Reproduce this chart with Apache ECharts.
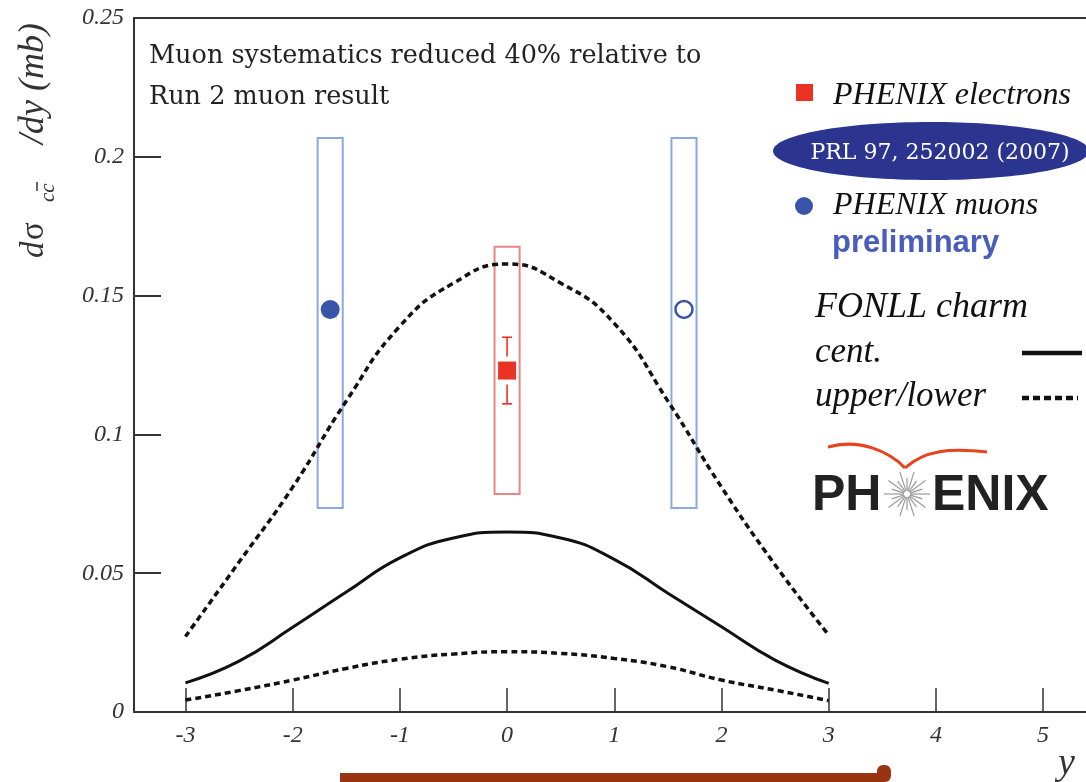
<!DOCTYPE html>
<html>
<head>
<meta charset="utf-8">
<title>Charm cross section vs rapidity</title>
<script src="https://cdn.jsdelivr.net/npm/echarts@6/dist/echarts.min.js"></script>
<style>
  html, body { margin: 0; padding: 0; background: #fff; }
  #chart { width: 1086px; height: 782px; }
</style>
</head>
<body>
<div id="chart"></div>
<script>
// FONLL charm curves, dsigma/dy (mb) vs rapidity y
const rapidity   = [-3, -2.5, -2, -1.5, -1, -0.5, 0, 0.5, 1, 1.5, 2, 2.5, 3];
const fonllCent  = [0.0105, 0.0183, 0.0305, 0.0432, 0.0555, 0.0627, 0.0648, 0.0627, 0.0550, 0.0428, 0.0307, 0.0187, 0.0103];
const fonllUpper = [0.0272, 0.0540, 0.0810, 0.1120, 0.1390, 0.1545, 0.1614, 0.1545, 0.1400, 0.1120, 0.0810, 0.0530, 0.0277];
const fonllLower = [0.0043, 0.0077, 0.0115, 0.0157, 0.0190, 0.0209, 0.0217, 0.0211, 0.0193, 0.0163, 0.0115, 0.0079, 0.0041];

// PHENIX muons (preliminary), forward / backward
const muonY      = [-1.65, 1.65];
const muonVal    = [0.145, 0.145];
const muonSysLo  = [0.0735, 0.0735];
const muonSysHi  = [0.2068, 0.2068];

// PHENIX electrons, mid rapidity
const elecY      = [0];
const elecVal    = [0.123];
const elecStatLo = [0.111];
const elecStatHi = [0.135];
const elecSysLo  = [0.0785];
const elecSysHi  = [0.1676];

// axis ticks
const xTicks = [-3, -2, -1, 0, 1, 2, 3, 4, 5];

const AXIS = '#333333';
const BLUE = '#3a55a8';
const BLUE_BOX = '#8aa9de';
const RED = '#ea3323';
const RED_BOX = '#e98585';
const boxHalf = 0.117;
const labelFont = { fontFamily: 'Liberation Serif', fontStyle: 'italic', fontSize: 24, color: AXIS };

const chart = echarts.init(document.getElementById('chart'));

function boxSeries(name, xs, lo, hi, color) {
  return {
    name: name,
    type: 'custom',
    silent: true,
    renderItem: function (params, api) {
      const x = api.value(0);
      const a = api.coord([x - boxHalf, api.value(2)]);
      const b = api.coord([x + boxHalf, api.value(1)]);
      return {
        type: 'rect',
        shape: { x: a[0], y: a[1], width: b[0] - a[0], height: b[1] - a[1] },
        style: { fill: 'none', stroke: color, lineWidth: 2 }
      };
    },
    data: xs.map((x, i) => [x, lo[i], hi[i]]),
    z: 2
  };
}

function pairs(xs, ys) { return xs.map((x, i) => [x, ys[i]]); }

function curve(name, ys, dashed) {
  return {
    name: name,
    type: 'line',
    data: pairs(rapidity, ys),
    smooth: 0.5,
    showSymbol: false,
    lineStyle: dashed
      ? { color: '#111', width: 3.5, type: [6, 4] }
      : { color: '#111', width: 3 },
    z: 3
  };
}

const legendItalic = 'italic 32px "Liberation Serif"';

chart.setOption({
  animation: false,
  backgroundColor: '#fff',
  grid: { left: 134, right: 0, top: 18, bottom: 70 },
  xAxis: [
    {
      type: 'value',
      min: -3.48,
      max: 5.40,
      axisLine: { show: true, onZero: false, lineStyle: { color: AXIS, width: 2 } },
      axisTick: { show: true, inside: true, length: 24, customValues: xTicks, lineStyle: { color: AXIS, width: 1.5 } },
      axisLabel: Object.assign({ margin: 12, customValues: xTicks }, labelFont),
      splitLine: { show: false }
    },
    {
      type: 'value',
      position: 'top',
      min: -3.48,
      max: 5.40,
      axisLine: { show: true, onZero: false, lineStyle: { color: AXIS, width: 2 } },
      axisTick: { show: false },
      axisLabel: { show: false },
      splitLine: { show: false }
    }
  ],
  yAxis: {
    type: 'value',
    min: 0,
    max: 0.25,
    interval: 0.05,
    axisLine: { show: true, onZero: false, lineStyle: { color: AXIS, width: 2 } },
    axisTick: { show: true, inside: true, length: 27, lineStyle: { color: AXIS, width: 2 } },
    axisLabel: Object.assign({ margin: 10, formatter: v => String(+v.toFixed(2)) }, labelFont),
    splitLine: { show: false }
  },
  series: [
    boxSeries('muon sys', muonY, muonSysLo, muonSysHi, BLUE_BOX),
    boxSeries('electron sys', elecY, elecSysLo, elecSysHi, RED_BOX),
    curve('upper', fonllUpper, true),
    curve('cent', fonllCent, false),
    curve('lower', fonllLower, true),
    {
      name: 'electron stat',
      type: 'custom',
      silent: true,
      renderItem: function (params, api) {
        const c = api.coord([api.value(0), api.value(1)]);
        const top = api.coord([api.value(0), api.value(3)]);
        const bot = api.coord([api.value(0), api.value(2)]);
        const st = { stroke: RED, lineWidth: 1.6 };
        return {
          type: 'group',
          children: [
            { type: 'line', shape: { x1: c[0], y1: top[1], x2: c[0], y2: c[1] - 14 }, style: st },
            { type: 'line', shape: { x1: c[0], y1: c[1] + 14, x2: c[0], y2: bot[1] }, style: st },
            { type: 'line', shape: { x1: c[0] - 5, y1: top[1], x2: c[0] + 5, y2: top[1] }, style: st },
            { type: 'line', shape: { x1: c[0] - 5, y1: bot[1], x2: c[0] + 5, y2: bot[1] }, style: st }
          ]
        };
      },
      data: elecY.map((x, i) => [x, elecVal[i], elecStatLo[i], elecStatHi[i]]),
      z: 4
    },
    {
      name: 'PHENIX electrons',
      type: 'scatter',
      symbol: 'rect',
      symbolSize: 18,
      itemStyle: { color: RED, opacity: 1 },
      data: pairs(elecY, elecVal),
      z: 5
    },
    {
      name: 'PHENIX muons',
      type: 'scatter',
      symbol: 'circle',
      data: muonY.map((x, i) => ({
        value: [x, muonVal[i]],
        symbolSize: i === 0 ? 19 : 17,
        itemStyle: i === 0
          ? { color: BLUE, opacity: 1 }
          : { color: '#fff', borderColor: BLUE, borderWidth: 2.5, opacity: 1 }
      })),
      z: 5
    }
  ],
  graphic: [
    // note text
    { type: 'text', x: 149, y: 56, style: { text: 'Muon systematics reduced 40% relative to', font: '25.5px "DejaVu Serif"', fill: '#222', textVerticalAlign: 'middle' } },
    { type: 'text', x: 149, y: 97, style: { text: 'Run 2 muon result', font: '25.5px "DejaVu Serif"', fill: '#222', textVerticalAlign: 'middle' } },
    // y-axis title
    {
      type: 'group', x: 34, y: 258, rotation: Math.PI / 2,
      children: [
        { type: 'text', x: 0, y: 0, style: { text: 'd', font: 'italic 33px "Liberation Serif"', fill: AXIS, textVerticalAlign: 'middle' } },
        { type: 'text', x: 18, y: 0, style: { text: 'σ', font: '33px "Liberation Serif"', fill: AXIS, textVerticalAlign: 'middle' } },
        { type: 'text', x: 56, y: 14, style: { text: 'cc', font: 'italic 21px "Liberation Serif"', fill: AXIS, textVerticalAlign: 'middle' } },
        { type: 'line', shape: { x1: 67, y1: 3, x2: 76, y2: 3 }, style: { stroke: AXIS, lineWidth: 1.5 } },
        { type: 'text', x: 114, y: 0, style: { text: '/dy (mb)', font: 'italic 36px "Liberation Serif"', fill: AXIS, textVerticalAlign: 'middle' } }
      ]
    },
    // x-axis title
    { type: 'text', x: 1058, y: 764, style: { text: 'y', font: 'italic 38px "Liberation Serif"', fill: AXIS, textVerticalAlign: 'middle' } },
    // legend: electrons
    { type: 'rect', shape: { x: 796, y: 84, width: 17, height: 17 }, style: { fill: RED } },
    { type: 'text', x: 833, y: 96, style: { text: 'PHENIX electrons', font: legendItalic, fill: '#111', textVerticalAlign: 'middle' } },
    { type: 'ellipse', shape: { cx: 931, cy: 151, rx: 158, ry: 29 }, style: { fill: '#2b3590' } },
    { type: 'text', x: 940, y: 153, style: { text: 'PRL 97, 252002 (2007)', font: '22px "DejaVu Serif"', fill: '#fff', textAlign: 'center', textVerticalAlign: 'middle' } },
    // legend: muons
    { type: 'circle', shape: { cx: 804, cy: 206, r: 9 }, style: { fill: BLUE } },
    { type: 'text', x: 833, y: 206, style: { text: 'PHENIX muons', font: legendItalic, fill: '#111', textVerticalAlign: 'middle' } },
    { type: 'text', x: 832, y: 243, style: { text: 'preliminary', font: 'bold 31px "Liberation Sans"', fill: '#4a5dbb', textVerticalAlign: 'middle' } },
    // legend: FONLL
    { type: 'text', x: 815, y: 308, style: { text: 'FONLL charm', font: 'italic 36px "Liberation Serif"', fill: '#111', textVerticalAlign: 'middle' } },
    { type: 'text', x: 815, y: 353, style: { text: 'cent.', font: 'italic 35px "Liberation Serif"', fill: '#111', textVerticalAlign: 'middle' } },
    { type: 'line', shape: { x1: 1022, y1: 353, x2: 1082, y2: 353 }, style: { stroke: '#111', lineWidth: 4.5 } },
    { type: 'text', x: 815, y: 397, style: { text: 'upper/lower', font: 'italic 35px "Liberation Serif"', fill: '#111', textVerticalAlign: 'middle' } },
    { type: 'line', shape: { x1: 1022, y1: 398, x2: 1078, y2: 398 }, style: { stroke: '#111', lineWidth: 4.5, lineDash: [7, 4] } },
    // PHENIX logo
    { type: 'text', x: 812, y: 496, style: { text: 'PH', font: 'bold 50px "Liberation Sans"', fill: '#222', textVerticalAlign: 'middle' } },
    { type: 'text', x: 932, y: 496, style: { text: 'ENIX', font: 'bold 50px "Liberation Sans"', fill: '#222', textVerticalAlign: 'middle' } },
    {
      type: 'group', x: 907, y: 494,
      children: Array.from({ length: 20 }, (_, k) => {
        const a = k * Math.PI / 10;
        const r = k % 2 ? 16 : 23;
        return { type: 'line', shape: { x1: 3 * Math.cos(a), y1: 3 * Math.sin(a), x2: r * Math.cos(a), y2: r * Math.sin(a) }, style: { stroke: '#9a9a9a', lineWidth: 1.2 } };
      })
    },
    { type: 'bezierCurve', shape: { x1: 828, y1: 447, cpx1: 860, cpy1: 438, x2: 905, y2: 468, cpx2: 890, cpy2: 452 }, style: { stroke: '#e8431e', lineWidth: 3, fill: 'none' } },
    { type: 'bezierCurve', shape: { x1: 905, y1: 468, cpx1: 925, cpy1: 450, x2: 987, y2: 452, cpx2: 950, cpy2: 448 }, style: { stroke: '#e8431e', lineWidth: 3, fill: 'none' } },
    // bottom bar
    { type: 'rect', shape: { x: 340, y: 773, width: 545, height: 9 }, style: { fill: '#983412' } },
    { type: 'rect', shape: { x: 877, y: 765, width: 14, height: 17, r: 6 }, style: { fill: '#983412' } }
  ]
});
</script>
</body>
</html>
